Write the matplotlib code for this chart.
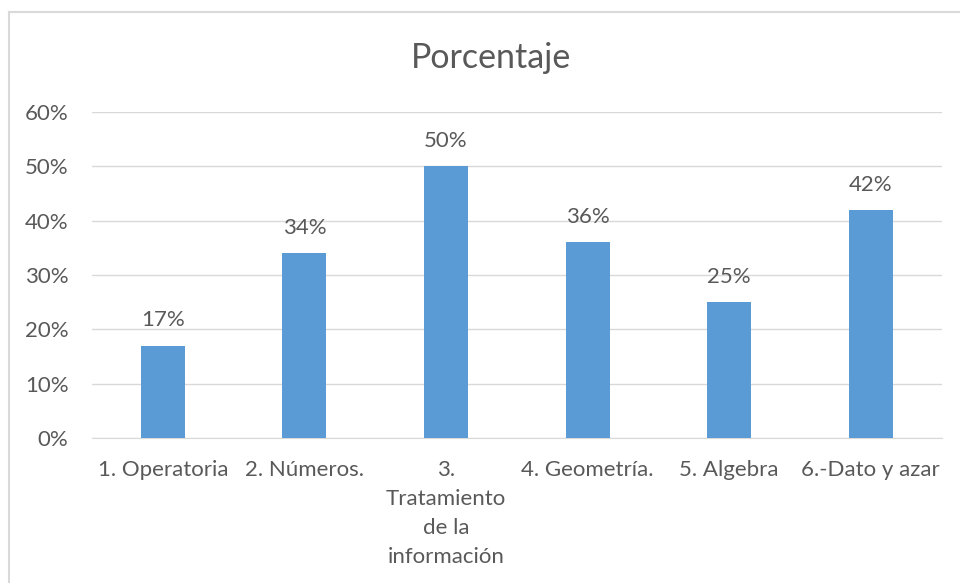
import matplotlib
matplotlib.use("Agg")
import matplotlib.pyplot as plt
from matplotlib.lines import Line2D
from matplotlib.ticker import PercentFormatter

categories = ["1. Operatoria", "2. Números.", "3.\nTratamiento\nde la\ninformación",
              "4. Geometría.", "5. Algebra", "6.-Dato y azar"]
values = [17, 34, 50, 36, 25, 42]
yticks = [0, 10, 20, 30, 40, 50, 60]

BAR = "#5B9BD5"
TXT = "#595959"
GRID = "#D9D9D9"

plt.rcParams["font.family"] = ["Lato", "DejaVu Sans"]

fig = plt.figure(figsize=(9.6, 5.83), dpi=100)
ax = fig.add_axes([0.0958, 0.2487, 0.885, 0.5593])

x = range(len(categories))
bars = ax.bar(x, values, width=0.31, color=BAR, zorder=3)
for b, v in zip(bars, values):
    ax.text(b.get_x() + b.get_width() / 2, v + 2.8, f"{v}%", ha="center", va="bottom",
            fontsize=16, color=TXT)

ax.set_xlim(-0.5, len(categories) - 0.5)
ax.set_ylim(0, 60)
ax.set_yticks(yticks)
ax.yaxis.set_major_formatter(PercentFormatter(decimals=0))
ax.set_xticks(list(x))
ax.set_xticklabels(categories, fontsize=16, color=TXT, linespacing=1.55, va="top")
ax.tick_params(axis="y", labelsize=16, labelcolor=TXT, length=0, pad=17)
ax.tick_params(axis="x", length=0, pad=16)
ax.grid(axis="y", color=GRID, linewidth=1, zorder=0)
for s in ["top", "right", "left"]:
    ax.spines[s].set_visible(False)
ax.spines["bottom"].set_color(GRID)

fig.text(0.511, 0.9, "Porcentaje", ha="center", va="center", fontsize=24.5, color=TXT)

# chart frame (top and left edges visible)
fig.add_artist(Line2D([9 / 960, 9 / 960], [0, 1 - 12 / 583], transform=fig.transFigure,
                      color=GRID, linewidth=1.5))
fig.add_artist(Line2D([9 / 960, 1], [1 - 12 / 583, 1 - 12 / 583], transform=fig.transFigure,
                      color=GRID, linewidth=1.5))

fig.savefig("out.png", dpi=100)
